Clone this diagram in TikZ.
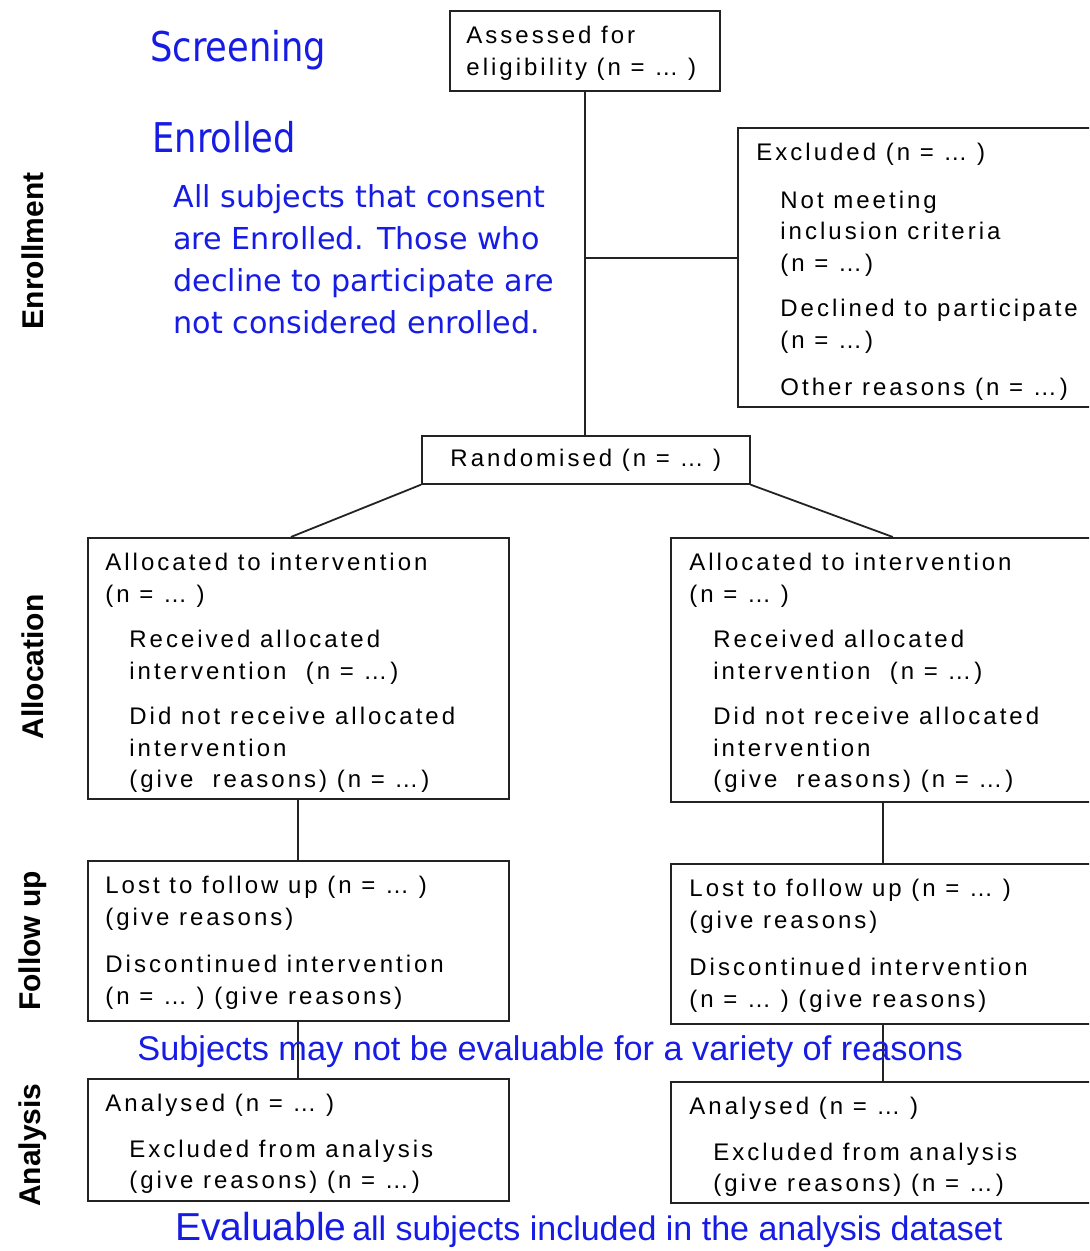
\documentclass[tikz,border=0pt]{standalone}
\usepackage{fontspec}
\setmainfont{Liberation Sans}
\newfontfamily\boxfam{Liberation Sans}[LetterSpace=12.5]
\newfontfamily\notefam{DejaVu Sans}
\newfontfamily\headfam{DejaVu Sans}[FakeStretch=0.86]
\usetikzlibrary{positioning, calc}
\definecolor{cNote}{RGB}{22,28,228}
\definecolor{cLine}{RGB}{35,35,35}
\tikzset{
	stagebox/.style={rectangle, draw=cLine, line width=0.85pt, anchor=north west, inner sep=0pt},
	boxtext/.style={anchor=north west, align=left, inner sep=0pt, text=black, font=\boxfam\fontsize{12}{15.75}\selectfont},
	sidelabel/.style={rotate=90, inner sep=0pt, font=\bfseries\fontsize{15}{18}\selectfont},
	note/.style={text=cNote, inner sep=0pt, anchor=base west},
	link/.style={draw=cLine, line width=0.9pt},
}
\newcommand{\subind}{\hspace*{12pt}}

\begin{document}
\begin{tikzpicture}[x=0.5pt, y=-0.5pt]
	\path[use as bounding box, clip] (0,0) rectangle (1089,1251);

	% stage labels
	\node[sidelabel] (lblEnrol) at (33,251) {Enrollment};
	\node[sidelabel] (lblAlloc) at (33,667) {Allocation};
	\node[sidelabel] (lblFollow) at (33,941) {Follow up};
	\node[sidelabel] (lblAnalysis) at (33,1145) {Analysis};

	% boxes
	\node[stagebox, minimum width=135pt, minimum height=40pt] (assess) at (449,10) {};
	\node[stagebox, minimum width=180pt, minimum height=139.5pt] (excl) at (737,127) {};
	\node[stagebox, minimum width=164pt, minimum height=24pt] (rand) at (421,435) {};
	\node[stagebox, minimum width=210.5pt, minimum height=130.5pt] (allocL) at (87,537) {};
	\node[stagebox, minimum width=212.5pt, minimum height=132pt] (allocR) at (670,537) {};
	\node[stagebox, minimum width=210.5pt, minimum height=80pt] (followL) at (87,860) {};
	\node[stagebox, minimum width=212.5pt, minimum height=80pt] (followR) at (670,863) {};
	\node[stagebox, minimum width=210.5pt, minimum height=61pt] (analysisL) at (87,1078) {};
	\node[stagebox, minimum width=212.5pt, minimum height=60.5pt] (analysisR) at (670,1081) {};

	% box texts
	\node[boxtext] (assessTxt) at ([shift={(17,16)}]assess.north west) {Assessed for\\eligibility (n = … )};
	\node[boxtext] (exclTxt) at ([shift={(19,16)}]excl.north west) {Excluded (n = … )\\[8pt]
		\subind Not meeting\\
		\subind inclusion criteria\\
		\subind (n = …)\\[7pt]
		\subind Declined to participate\\
		\subind (n = …)\\[8pt]
		\subind Other reasons (n = …)};
	\node[boxtext, anchor=center] (randTxt) at (rand.center) {Randomised (n = … )};
	\node[boxtext] (allocLTxt) at ([shift={(18,16)}]allocL.north west) {Allocated to intervention\\
		(n = … )\\[7pt]
		\subind Received allocated\\
		\subind intervention~~(n = …)\\[7pt]
		\subind Did not receive allocated\\
		\subind intervention\\
		\subind (give~~reasons) (n = …)};
	\node[boxtext] (allocRTxt) at ([shift={(19,16)}]allocR.north west) {Allocated to intervention\\
		(n = … )\\[7pt]
		\subind Received allocated\\
		\subind intervention~~(n = …)\\[7pt]
		\subind Did not receive allocated\\
		\subind intervention\\
		\subind (give~~reasons) (n = …)};
	\node[boxtext] (followLTxt) at ([shift={(18,16)}]followL.north west) {Lost to follow up (n = … )\\
		(give reasons)\\[8pt]
		Discontinued intervention\\
		(n = … ) (give reasons)};
	\node[boxtext] (followRTxt) at ([shift={(19,16)}]followR.north west) {Lost to follow up (n = … )\\
		(give reasons)\\[8pt]
		Discontinued intervention\\
		(n = … ) (give reasons)};
	\node[boxtext] (analysisLTxt) at ([shift={(18,16)}]analysisL.north west) {Analysed (n = … )\\[7pt]
		\subind Excluded from analysis\\
		\subind (give reasons) (n = …)};
	\node[boxtext] (analysisRTxt) at ([shift={(19,16)}]analysisR.north west) {Analysed (n = … )\\[7pt]
		\subind Excluded from analysis\\
		\subind (give reasons) (n = …)};

	% connectors
	\coordinate (exclJoin) at ([yshift=4.75pt]excl.west);
	\draw[link] (assess.south) -- (assess.south |- rand.north);
	\draw[link] (exclJoin) -- (exclJoin -| assess.south);
	\draw[link] (rand.south west) -- ([xshift=-3.75pt]allocL.north);
	\draw[link] (rand.south east) -- ([xshift=4.75pt]allocR.north);
	\draw[link] (allocL.south) -- (followL.north);
	\draw[link] (allocR.south) -- (followR.north);
	\draw[link] (followL.south) -- (analysisL.north);
	\draw[link] (followR.south) -- (analysisR.north);

	% blue notes
	\node[note, font=\headfam\fontsize{20.5}{24}\selectfont] (screenNote) at (150,62) {Screening};
	\node[note, font=\headfam\fontsize{20.5}{24}\selectfont] (enrolNote) at (152,153) {Enrolled};
	\node[note, anchor=north west, align=left, font=\notefam\fontsize{15.1}{21}\selectfont] (consentNote) at (173,184) {All subjects that consent\\are Enrolled. Those who\\decline to participate are\\not considered enrolled.};
	\node[note, font=\fontsize{17.15}{20}\selectfont] (evalNote) at (137,1060) {Subjects may not be evaluable for a variety of reasons};
	\node[note] (evalDef) at (175,1240) {{\fontsize{19.5}{22}\selectfont Evaluable} {\fontsize{17}{20}\selectfont all subjects included in the analysis dataset}};
\end{tikzpicture}
\end{document}
